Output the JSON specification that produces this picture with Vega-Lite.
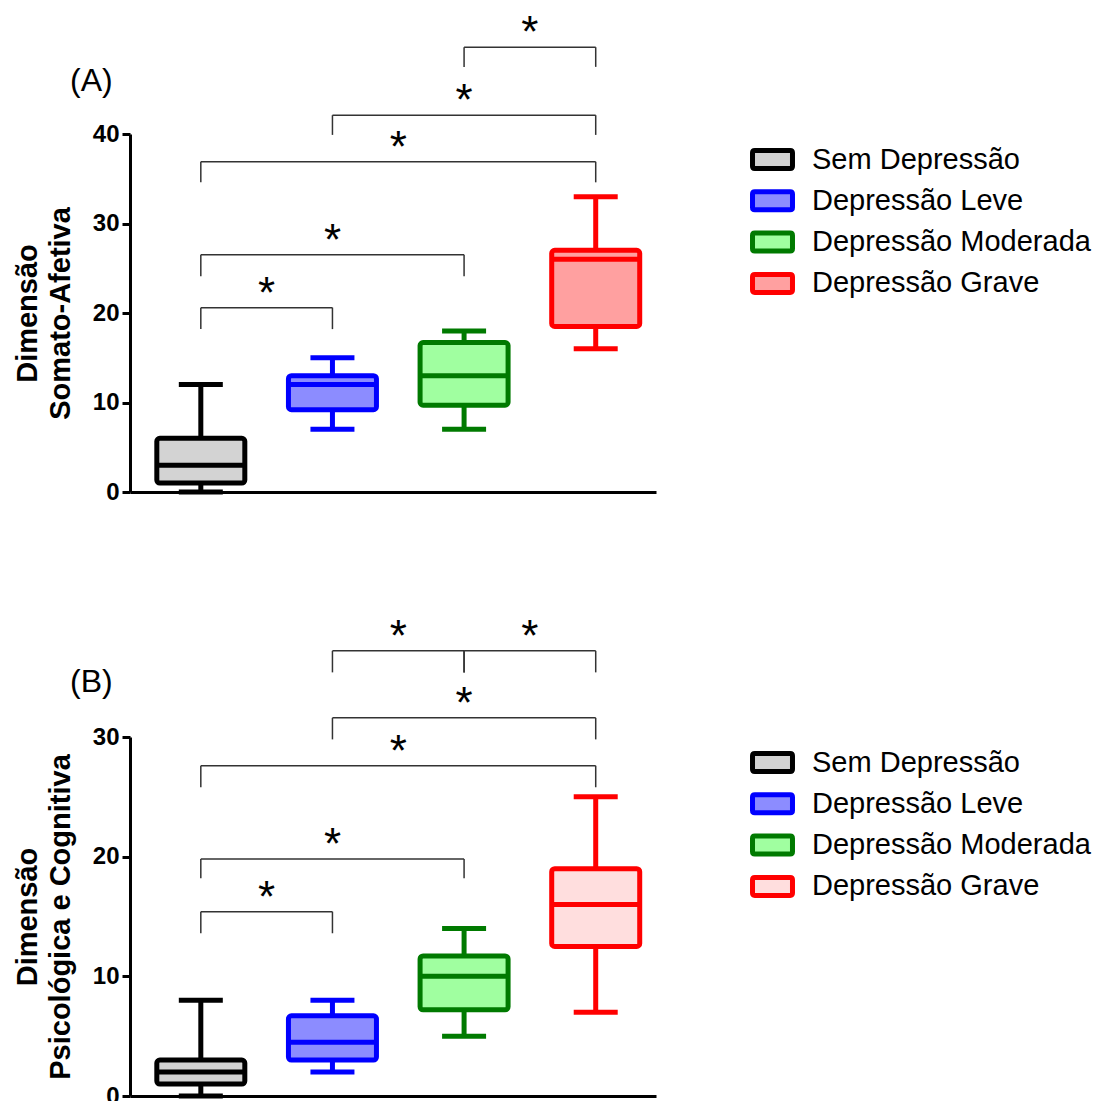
{
  "$schema": "https://vega.github.io/schema/vega-lite/v6.json",
  "background": "white",
  "padding": {"left": 13, "top": 12, "right": 5, "bottom": 0},
  "config": {
    "view": {"stroke": null},
    "font": "Liberation Sans",
    "axis": {
      "grid": false, "domainColor": "#000", "domainWidth": 3, "tickColor": "#000", "tickWidth": 3, "tickSize": 8,
      "labelFont": "Liberation Sans", "labelFontSize": 24, "labelFontWeight": "bold", "labelColor": "#000", "labelPadding": 3,
      "titleFont": "Liberation Sans", "titleFontSize": 29, "titleFontWeight": "bold", "titleColor": "#000", "titleLineHeight": 33, "titlePadding": 17
    }
  },
  "datasets": {
    "caixas": [
      {"painel": "A", "grupo": "Sem Depressão", "ordem": 1, "minimo": 0, "q1": 1, "mediana": 3, "q3": 6, "maximo": 12},
      {"painel": "A", "grupo": "Depressão Leve", "ordem": 2, "minimo": 7, "q1": 9.2, "mediana": 12, "q3": 13, "maximo": 15},
      {"painel": "A", "grupo": "Depressão Moderada", "ordem": 3, "minimo": 7, "q1": 9.7, "mediana": 13, "q3": 16.7, "maximo": 18},
      {"painel": "A", "grupo": "Depressão Grave", "ordem": 4, "minimo": 16, "q1": 18.5, "mediana": 26, "q3": 27, "maximo": 33},
      {"painel": "B", "grupo": "Sem Depressão", "ordem": 1, "minimo": 0, "q1": 1, "mediana": 2, "q3": 3, "maximo": 8},
      {"painel": "B", "grupo": "Depressão Leve", "ordem": 2, "minimo": 2, "q1": 3, "mediana": 4.5, "q3": 6.7, "maximo": 8},
      {"painel": "B", "grupo": "Depressão Moderada", "ordem": 3, "minimo": 5, "q1": 7.2, "mediana": 10, "q3": 11.7, "maximo": 14},
      {"painel": "B", "grupo": "Depressão Grave", "ordem": 4, "minimo": 7, "q1": 12.5, "mediana": 16, "q3": 19, "maximo": 25}
    ],
    "colchetes": [
      {"painel": "A", "de": 1, "ate": 2, "meio": 1.5, "topo": 20.6, "base": 18.2},
      {"painel": "A", "de": 1, "ate": 3, "meio": 2, "topo": 26.5, "base": 24.1},
      {"painel": "A", "de": 1, "ate": 4, "meio": 2.5, "topo": 36.9, "base": 34.6},
      {"painel": "A", "de": 2, "ate": 4, "meio": 3, "topo": 42.1, "base": 39.9},
      {"painel": "A", "de": 3, "ate": 4, "meio": 3.5, "topo": 49.7, "base": 47.5},
      {"painel": "B", "de": 1, "ate": 2, "meio": 1.5, "topo": 15.4, "base": 13.6},
      {"painel": "B", "de": 1, "ate": 3, "meio": 2, "topo": 19.8, "base": 18.2},
      {"painel": "B", "de": 1, "ate": 4, "meio": 2.5, "topo": 27.6, "base": 25.8},
      {"painel": "B", "de": 2, "ate": 4, "meio": 3, "topo": 31.6, "base": 29.8},
      {"painel": "B", "de": 2, "ate": 3, "meio": 2.5, "topo": 37.2, "base": 35.4},
      {"painel": "B", "de": 3, "ate": 4, "meio": 3.5, "topo": 37.2, "base": 35.4}
    ]
  },
  "spacing": 111,
  "resolve": {
    "scale": {"x": "independent", "y": "independent", "fill": "independent", "stroke": "independent"},
    "legend": {"fill": "independent", "stroke": "independent"}
  },
  "vconcat": [
    {
      "width": 526, "height": 358,
      "title": {"text": "(A)", "anchor": "start", "frame": "group", "dx": -60, "dy": 122, "fontSize": 32, "fontWeight": "normal", "font": "Liberation Sans", "baseline": "bottom", "color": "#000"},
      "layer": [
        {
          "data": {"name": "caixas"}, "transform": [{"filter": "datum.painel == 'A'"}],
          "mark": {"type": "rule", "strokeWidth": 5},
          "encoding": {
            "x": {"field": "ordem", "type": "quantitative", "scale": {"domain": [0.5, 4.42], "nice": false, "zero": false}, "axis": {"labels": false, "ticks": false, "title": null}},
            "y": {"field": "minimo", "type": "quantitative", "scale": {"domain": [0, 40], "nice": false}, "axis": {"values": [0, 10, 20, 30, 40], "title": ["Dimensão", "Somato-Afetiva"]}},
            "y2": {"field": "maximo"},
            "stroke": {"field": "grupo", "type": "nominal", "scale": {"domain": ["Sem Depressão", "Depressão Leve", "Depressão Moderada", "Depressão Grave"], "range": ["#000000", "#0000FF", "#007A00", "#FF0000"]}}
          }
        },
        {
          "data": {"name": "caixas"}, "transform": [{"filter": "datum.painel == 'A'"}],
          "mark": {"type": "bar", "size": 88, "strokeWidth": 5, "cornerRadius": 3, "strokeJoin": "round"},
          "encoding": {
            "x": {"field": "ordem", "type": "quantitative", "scale": {"domain": [0.5, 4.42], "nice": false, "zero": false}},
            "y": {"field": "q1", "type": "quantitative", "scale": {"domain": [0, 40], "nice": false}},
            "y2": {"field": "q3"},
            "fill": {"field": "grupo", "type": "nominal", "scale": {"domain": ["Sem Depressão", "Depressão Leve", "Depressão Moderada", "Depressão Grave"], "range": ["#D3D3D3", "#8C8CFF", "#A0FFA0", "#FFA0A0"]},
              "legend": {"orient": "none", "legendX": 621, "legendY": 4, "title": null, "symbolType": "M-0.95,-0.483L0.95,-0.483Q1.072,-0.483 1.072,-0.36L1.072,0.36Q1.072,0.483 0.95,0.483L-0.95,0.483Q-1.072,0.483 -1.072,0.36L-1.072,-0.36Q-1.072,-0.483 -0.95,-0.483Z", "symbolSize": 1391, "symbolStrokeWidth": 5, "symbolOpacity": 1, "labelFontSize": 29, "labelFont": "Liberation Sans", "labelColor": "#000", "labelOffset": 18, "rowPadding": 0.3, "padding": 0, "labelLimit": 400}},
            "stroke": {"field": "grupo", "type": "nominal", "scale": {"domain": ["Sem Depressão", "Depressão Leve", "Depressão Moderada", "Depressão Grave"], "range": ["#000000", "#0000FF", "#007A00", "#FF0000"]},
              "legend": {"orient": "none", "legendX": 621, "legendY": 4, "title": null, "symbolType": "M-0.95,-0.483L0.95,-0.483Q1.072,-0.483 1.072,-0.36L1.072,0.36Q1.072,0.483 0.95,0.483L-0.95,0.483Q-1.072,0.483 -1.072,0.36L-1.072,-0.36Q-1.072,-0.483 -0.95,-0.483Z", "symbolSize": 1391, "symbolStrokeWidth": 5, "symbolOpacity": 1, "labelFontSize": 29, "labelFont": "Liberation Sans", "labelColor": "#000", "labelOffset": 18, "rowPadding": 0.3, "padding": 0, "labelLimit": 400}}
          }
        },
        {
          "data": {"name": "caixas"}, "transform": [{"filter": "datum.painel == 'A'"}],
          "mark": {"type": "tick", "orient": "horizontal", "size": 84, "thickness": 0.01, "filled": false, "strokeWidth": 5, "opacity": 1},
          "encoding": {
            "x": {"field": "ordem", "type": "quantitative", "scale": {"domain": [0.5, 4.42], "nice": false, "zero": false}},
            "y": {"field": "mediana", "type": "quantitative", "scale": {"domain": [0, 40], "nice": false}},
            "stroke": {"field": "grupo", "type": "nominal", "scale": {"domain": ["Sem Depressão", "Depressão Leve", "Depressão Moderada", "Depressão Grave"], "range": ["#000000", "#0000FF", "#007A00", "#FF0000"]}}
          }
        },
        {
          "data": {"name": "caixas"}, "transform": [{"filter": "datum.painel == 'A'"}],
          "mark": {"type": "tick", "orient": "horizontal", "size": 39, "thickness": 0.01, "filled": false, "strokeWidth": 5, "opacity": 1},
          "encoding": {
            "x": {"field": "ordem", "type": "quantitative", "scale": {"domain": [0.5, 4.42], "nice": false, "zero": false}},
            "y": {"field": "minimo", "type": "quantitative", "scale": {"domain": [0, 40], "nice": false}},
            "stroke": {"field": "grupo", "type": "nominal", "scale": {"domain": ["Sem Depressão", "Depressão Leve", "Depressão Moderada", "Depressão Grave"], "range": ["#000000", "#0000FF", "#007A00", "#FF0000"]}}
          }
        },
        {
          "data": {"name": "caixas"}, "transform": [{"filter": "datum.painel == 'A'"}],
          "mark": {"type": "tick", "orient": "horizontal", "size": 39, "thickness": 0.01, "filled": false, "strokeWidth": 5, "opacity": 1},
          "encoding": {
            "x": {"field": "ordem", "type": "quantitative", "scale": {"domain": [0.5, 4.42], "nice": false, "zero": false}},
            "y": {"field": "maximo", "type": "quantitative", "scale": {"domain": [0, 40], "nice": false}},
            "stroke": {"field": "grupo", "type": "nominal", "scale": {"domain": ["Sem Depressão", "Depressão Leve", "Depressão Moderada", "Depressão Grave"], "range": ["#000000", "#0000FF", "#007A00", "#FF0000"]}}
          }
        },
        {
          "data": {"name": "colchetes"}, "transform": [{"filter": "datum.painel == 'A'"}],
          "mark": {"type": "rule", "strokeWidth": 1.5, "color": "#333"},
          "encoding": {
            "x": {"field": "de", "type": "quantitative", "scale": {"domain": [0.5, 4.42], "nice": false, "zero": false}},
            "x2": {"field": "ate"},
            "y": {"field": "topo", "type": "quantitative", "scale": {"domain": [0, 40], "nice": false}}
          }
        },
        {
          "data": {"name": "colchetes"}, "transform": [{"filter": "datum.painel == 'A'"}],
          "mark": {"type": "rule", "strokeWidth": 1.5, "color": "#333"},
          "encoding": {
            "x": {"field": "de", "type": "quantitative", "scale": {"domain": [0.5, 4.42], "nice": false, "zero": false}},
            "y": {"field": "base", "type": "quantitative", "scale": {"domain": [0, 40], "nice": false}},
            "y2": {"field": "topo"}
          }
        },
        {
          "data": {"name": "colchetes"}, "transform": [{"filter": "datum.painel == 'A'"}],
          "mark": {"type": "rule", "strokeWidth": 1.5, "color": "#333"},
          "encoding": {
            "x": {"field": "ate", "type": "quantitative", "scale": {"domain": [0.5, 4.42], "nice": false, "zero": false}},
            "y": {"field": "base", "type": "quantitative", "scale": {"domain": [0, 40], "nice": false}},
            "y2": {"field": "topo"}
          }
        },
        {
          "data": {"name": "colchetes"}, "transform": [{"filter": "datum.painel == 'A'"}],
          "mark": {"type": "text", "text": "*", "fontSize": 44, "font": "Liberation Sans", "baseline": "alphabetic", "align": "center", "dy": 0, "color": "#000"},
          "encoding": {
            "x": {"field": "meio", "type": "quantitative", "scale": {"domain": [0.5, 4.42], "nice": false, "zero": false}},
            "y": {"field": "topo", "type": "quantitative", "scale": {"domain": [0, 40], "nice": false}}
          }
        }
      ]
    },
    {
      "width": 526, "height": 359,
      "title": {"text": "(B)", "anchor": "start", "frame": "group", "dx": -60, "dy": 119, "fontSize": 32, "fontWeight": "normal", "font": "Liberation Sans", "baseline": "bottom", "color": "#000"},
      "layer": [
        {
          "data": {"name": "caixas"}, "transform": [{"filter": "datum.painel == 'B'"}],
          "mark": {"type": "rule", "strokeWidth": 5},
          "encoding": {
            "x": {"field": "ordem", "type": "quantitative", "scale": {"domain": [0.5, 4.42], "nice": false, "zero": false}, "axis": {"labels": false, "ticks": false, "title": null}},
            "y": {"field": "minimo", "type": "quantitative", "scale": {"domain": [0, 30], "nice": false}, "axis": {"values": [0, 10, 20, 30], "title": ["Dimensão", "Psicológica e Cognitiva"]}},
            "y2": {"field": "maximo"},
            "stroke": {"field": "grupo", "type": "nominal", "scale": {"domain": ["Sem Depressão", "Depressão Leve", "Depressão Moderada", "Depressão Grave"], "range": ["#000000", "#0000FF", "#007A00", "#FF0000"]}}
          }
        },
        {
          "data": {"name": "caixas"}, "transform": [{"filter": "datum.painel == 'B'"}],
          "mark": {"type": "bar", "size": 88, "strokeWidth": 5, "cornerRadius": 3, "strokeJoin": "round"},
          "encoding": {
            "x": {"field": "ordem", "type": "quantitative", "scale": {"domain": [0.5, 4.42], "nice": false, "zero": false}},
            "y": {"field": "q1", "type": "quantitative", "scale": {"domain": [0, 30], "nice": false}},
            "y2": {"field": "q3"},
            "fill": {"field": "grupo", "type": "nominal", "scale": {"domain": ["Sem Depressão", "Depressão Leve", "Depressão Moderada", "Depressão Grave"], "range": ["#D3D3D3", "#8C8CFF", "#A0FFA0", "#FFDEDE"]},
              "legend": {"orient": "none", "legendX": 621, "legendY": 4, "title": null, "symbolType": "M-0.95,-0.483L0.95,-0.483Q1.072,-0.483 1.072,-0.36L1.072,0.36Q1.072,0.483 0.95,0.483L-0.95,0.483Q-1.072,0.483 -1.072,0.36L-1.072,-0.36Q-1.072,-0.483 -0.95,-0.483Z", "symbolSize": 1391, "symbolStrokeWidth": 5, "symbolOpacity": 1, "labelFontSize": 29, "labelFont": "Liberation Sans", "labelColor": "#000", "labelOffset": 18, "rowPadding": 0.3, "padding": 0, "labelLimit": 400}},
            "stroke": {"field": "grupo", "type": "nominal", "scale": {"domain": ["Sem Depressão", "Depressão Leve", "Depressão Moderada", "Depressão Grave"], "range": ["#000000", "#0000FF", "#007A00", "#FF0000"]},
              "legend": {"orient": "none", "legendX": 621, "legendY": 4, "title": null, "symbolType": "M-0.95,-0.483L0.95,-0.483Q1.072,-0.483 1.072,-0.36L1.072,0.36Q1.072,0.483 0.95,0.483L-0.95,0.483Q-1.072,0.483 -1.072,0.36L-1.072,-0.36Q-1.072,-0.483 -0.95,-0.483Z", "symbolSize": 1391, "symbolStrokeWidth": 5, "symbolOpacity": 1, "labelFontSize": 29, "labelFont": "Liberation Sans", "labelColor": "#000", "labelOffset": 18, "rowPadding": 0.3, "padding": 0, "labelLimit": 400}}
          }
        },
        {
          "data": {"name": "caixas"}, "transform": [{"filter": "datum.painel == 'B'"}],
          "mark": {"type": "tick", "orient": "horizontal", "size": 84, "thickness": 0.01, "filled": false, "strokeWidth": 5, "opacity": 1},
          "encoding": {
            "x": {"field": "ordem", "type": "quantitative", "scale": {"domain": [0.5, 4.42], "nice": false, "zero": false}},
            "y": {"field": "mediana", "type": "quantitative", "scale": {"domain": [0, 30], "nice": false}},
            "stroke": {"field": "grupo", "type": "nominal", "scale": {"domain": ["Sem Depressão", "Depressão Leve", "Depressão Moderada", "Depressão Grave"], "range": ["#000000", "#0000FF", "#007A00", "#FF0000"]}}
          }
        },
        {
          "data": {"name": "caixas"}, "transform": [{"filter": "datum.painel == 'B'"}],
          "mark": {"type": "tick", "orient": "horizontal", "size": 39, "thickness": 0.01, "filled": false, "strokeWidth": 5, "opacity": 1},
          "encoding": {
            "x": {"field": "ordem", "type": "quantitative", "scale": {"domain": [0.5, 4.42], "nice": false, "zero": false}},
            "y": {"field": "minimo", "type": "quantitative", "scale": {"domain": [0, 30], "nice": false}},
            "stroke": {"field": "grupo", "type": "nominal", "scale": {"domain": ["Sem Depressão", "Depressão Leve", "Depressão Moderada", "Depressão Grave"], "range": ["#000000", "#0000FF", "#007A00", "#FF0000"]}}
          }
        },
        {
          "data": {"name": "caixas"}, "transform": [{"filter": "datum.painel == 'B'"}],
          "mark": {"type": "tick", "orient": "horizontal", "size": 39, "thickness": 0.01, "filled": false, "strokeWidth": 5, "opacity": 1},
          "encoding": {
            "x": {"field": "ordem", "type": "quantitative", "scale": {"domain": [0.5, 4.42], "nice": false, "zero": false}},
            "y": {"field": "maximo", "type": "quantitative", "scale": {"domain": [0, 30], "nice": false}},
            "stroke": {"field": "grupo", "type": "nominal", "scale": {"domain": ["Sem Depressão", "Depressão Leve", "Depressão Moderada", "Depressão Grave"], "range": ["#000000", "#0000FF", "#007A00", "#FF0000"]}}
          }
        },
        {
          "data": {"name": "colchetes"}, "transform": [{"filter": "datum.painel == 'B'"}],
          "mark": {"type": "rule", "strokeWidth": 1.5, "color": "#333"},
          "encoding": {
            "x": {"field": "de", "type": "quantitative", "scale": {"domain": [0.5, 4.42], "nice": false, "zero": false}},
            "x2": {"field": "ate"},
            "y": {"field": "topo", "type": "quantitative", "scale": {"domain": [0, 30], "nice": false}}
          }
        },
        {
          "data": {"name": "colchetes"}, "transform": [{"filter": "datum.painel == 'B'"}],
          "mark": {"type": "rule", "strokeWidth": 1.5, "color": "#333"},
          "encoding": {
            "x": {"field": "de", "type": "quantitative", "scale": {"domain": [0.5, 4.42], "nice": false, "zero": false}},
            "y": {"field": "base", "type": "quantitative", "scale": {"domain": [0, 30], "nice": false}},
            "y2": {"field": "topo"}
          }
        },
        {
          "data": {"name": "colchetes"}, "transform": [{"filter": "datum.painel == 'B'"}],
          "mark": {"type": "rule", "strokeWidth": 1.5, "color": "#333"},
          "encoding": {
            "x": {"field": "ate", "type": "quantitative", "scale": {"domain": [0.5, 4.42], "nice": false, "zero": false}},
            "y": {"field": "base", "type": "quantitative", "scale": {"domain": [0, 30], "nice": false}},
            "y2": {"field": "topo"}
          }
        },
        {
          "data": {"name": "colchetes"}, "transform": [{"filter": "datum.painel == 'B'"}],
          "mark": {"type": "text", "text": "*", "fontSize": 44, "font": "Liberation Sans", "baseline": "alphabetic", "align": "center", "dy": 0, "color": "#000"},
          "encoding": {
            "x": {"field": "meio", "type": "quantitative", "scale": {"domain": [0.5, 4.42], "nice": false, "zero": false}},
            "y": {"field": "topo", "type": "quantitative", "scale": {"domain": [0, 30], "nice": false}}
          }
        }
      ]
    }
  ]
}
